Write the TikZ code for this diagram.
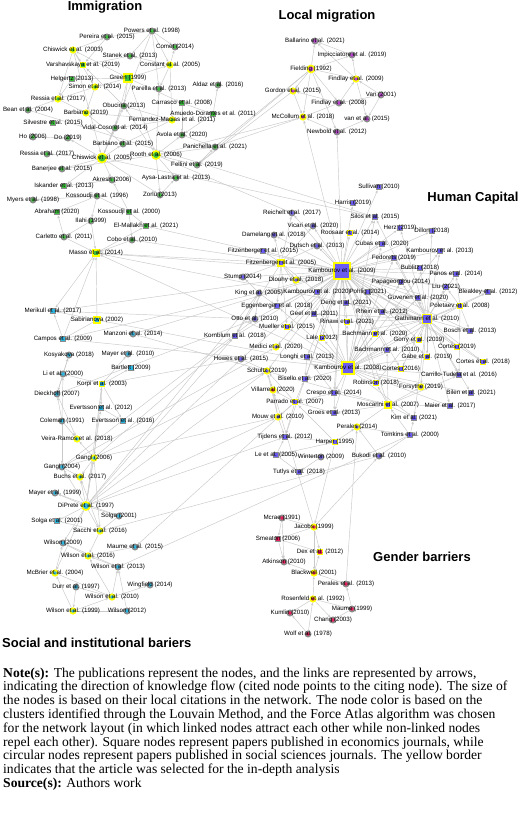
\documentclass[tikz,border=0pt]{standalone}
\usepackage{fontspec}
\setmainfont{Liberation Serif}
\setsansfont{Liberation Sans}
\usetikzlibrary{arrows.meta}
\pgfdeclarelayer{back0}
\pgfdeclarelayer{edges}
\pgfsetlayers{back0,edges,main}
\definecolor{cIM}{HTML}{3CBF3C}
\definecolor{cLM}{HTML}{BF3FD6}
\definecolor{cHC}{HTML}{6B5CF2}
\definecolor{cSB}{HTML}{2DB8E3}
\definecolor{cGB}{HTML}{E6225E}
\definecolor{ring}{HTML}{8C8C8C}
\definecolor{lnkc}{HTML}{C9C9C9}
\definecolor{ylw}{HTML}{FFFF00}
\tikzset{
  mk/.style={inner sep=0pt, line width=1.5pt, draw=ring},
  ci/.style={mk, circle, minimum size=5.4pt},
  sq/.style={mk, rectangle, minimum size=5.2pt},
  sel/.style={draw=ylw, line width=1.7pt},
  sz/.style={minimum size=#1},
  im/.style={fill=cIM}, lm/.style={fill=cLM}, hc/.style={fill=cHC},
  sb/.style={fill=cSB}, gb/.style={fill=cGB},
  lb/.style={font=\sffamily\fontsize{6.2}{7}\selectfont, inner sep=0pt, text=black},
  ttl/.style={font=\sffamily\bfseries\fontsize{13}{15}\selectfont, inner sep=0pt, anchor=base},
  nt/.style={font=\fontsize{13.6}{14}\selectfont, inner sep=0pt, anchor=base west},
  lnk/.style={draw=lnkc, line width=0.45pt, -{Stealth[length=3pt,width=2.4pt]}}
}
\newcommand{\mypp}[5]{\node[#4,label={[lb]center:#5}] (#1) at (#2,#3) {};}
\begin{document}
\begin{tikzpicture}[x=1pt,y=-1pt]
\path[use as bounding box] (0,0) rectangle (520,815);
\begin{pgfonlayer}{back0}
\fill[white] (0,0) rectangle (520,815);
\end{pgfonlayer}
% ---------------- Immigration
\mypp{pow}{152}{31}{ci,im}{Powers et al. (1998)}
\mypp{per}{107}{37}{ci,im}{Pereira et al. (2015)}
\mypp{chi03}{73}{50}{ci,im,sel}{Chiswick et al. (2003)}
\mypp{sta}{130}{56}{ci,im}{Stanek et al. (2013)}
\mypp{com}{175}{47}{ci,im}{Comet (2014)}
\mypp{var}{83}{65}{sq,im,sel}{Varshavskaya et al. (2019)}
\mypp{con}{170}{65}{ci,im,sel}{Constant et al. (2005)}
\mypp{hel}{72}{79}{sq,im}{Helgertz (2013)}
\mypp{gre}{128}{78}{sq,im,sel,sz=7.5pt}{Green (1999)}
\mypp{sim}{95}{87}{ci,im,sel}{Simon et al. (2014)}
\mypp{par}{159}{89}{ci,im}{Parella et al. (2013)}
\mypp{ald}{218}{85}{ci,im}{Aldaz et al. (2016)}
\mypp{res17a}{58}{99}{ci,im,sel}{Ressia et al. (2017)}
\mypp{car}{182}{103}{sq,im}{Carrasco et al. (2008)}
\mypp{obu}{124}{106}{ci,im}{Obucina (2013)}
\mypp{amu}{213}{114}{sq,im}{Amuedo-Dorantes et al. (2011)}
\mypp{bea}{28}{110}{ci,im}{Bean et al. (2004)}
\mypp{bar19}{86}{113}{ci,im,sel}{Barbiano (2019)}
\mypp{fer}{172}{120}{ci,im,sel}{Fernandez-Macias et al. (2011)}
\mypp{sil}{53}{123}{sq,im}{Silvestre et al. (2015)}
\mypp{vid}{115}{128}{ci,im}{Vidal-Coso et al. (2014)}
\mypp{avo}{182}{135}{ci,im}{Avola et al. (2020)}
\mypp{ho}{33}{137}{ci,im}{Ho (2006)}
\mypp{do}{68}{138}{ci,im}{Do (2019)}
\mypp{bar15}{123}{144}{ci,im}{Barbiano et al. (2015)}
\mypp{res17b}{47}{154}{ci,im}{Ressia et al. (2017)}
\mypp{chi05}{102}{158}{ci,im,sel,sz=9pt}{Chiswick et al. (2005)}
\mypp{roo}{156}{155}{ci,im,sel,sz=8pt}{Rooth et al. (2006)}
\mypp{pan}{215}{147}{ci,im}{Panichella et al. (2021)}
\mypp{fel}{197}{165}{ci,im}{Fellini et al. (2019)}
\mypp{ban}{62}{169}{ci,im}{Banerjee et al. (2015)}
\mypp{akr}{112}{180}{ci,im}{Akresh (2006)}
\mypp{ays}{176}{178}{ci,im}{Aysa-Lastra et al. (2013)}
\mypp{isk}{64}{186}{sq,im}{Iskander et al. (2013)}
\mypp{zor}{160}{195}{ci,im}{Zorlu (2013)}
\mypp{mye}{33}{200}{ci,im}{Myers et al. (1998)}
\mypp{kos96}{97}{196}{ci,im}{Kossoudji et al. (1996)}
\mypp{abr}{57}{212}{sq,im}{Abraham (2020)}
\mypp{kos00}{129}{212}{sq,im}{Kossoudji et al. (2000)}
\mypp{ila}{91}{221}{ci,im}{Ilahi (1999)}
\mypp{elm}{146}{226}{sq,im}{El-Mallakh et al. (2021)}
\mypp{carl}{64}{237}{ci,im}{Carletto et al. (2011)}
\mypp{cob}{132}{240}{ci,im}{Cobo et al. (2010)}
\mypp{mas}{96}{253}{sq,im,sel,sz=6.5pt}{Masso et al. (2014)}
% ---------------- Local migration
\mypp{bal}{315}{41}{ci,lm}{Ballarino et al. (2021)}
\mypp{imp}{352}{55}{ci,lm}{Impicciatore et al. (2019)}
\mypp{fie}{311}{69}{ci,lm,sel,sz=7pt}{Fielding (1992)}
\mypp{fin09}{356}{79}{ci,lm,sel}{Findlay et al. (2009)}
\mypp{van01}{381}{95}{ci,lm}{Van (2001)}
\mypp{gor}{293}{91}{ci,lm,sel}{Gordon et al. (2015)}
\mypp{fin08}{339}{103}{ci,lm}{Findlay et al. (2008)}
\mypp{mcc}{303}{117}{ci,lm,sel}{McCollum et al. (2018)}
\mypp{vanet}{367}{119}{ci,lm}{van et al. (2015)}
\mypp{new}{337}{132}{ci,lm}{Newbold et al. (2012)}
% ---------------- Social and institutional
\mypp{mer}{53}{311}{sq,sb}{Merikull et al. (2017)}
\mypp{sab}{97}{320}{sq,sb,sel,sz=6.5pt}{Sabirianova (2002)}
\mypp{cam}{63}{339}{sq,sb}{Campos et al. (2009)}
\mypp{man}{133}{334}{ci,sb}{Manzoni et al. (2014)}
\mypp{kosy}{69}{355}{ci,sb}{Kosyakova (2018)}
\mypp{may10}{128}{354}{ci,sb}{Mayer et al. (2010)}
\mypp{bart}{131}{368}{sq,sb}{Bartlett (2009)}
\mypp{li}{63}{374}{ci,sb}{Li et al. (2000)}
\mypp{kor}{102}{384}{sq,sb,sel}{Korpi et al. (2003)}
\mypp{die}{57}{394}{ci,sb}{Dieckhoff (2007)}
\mypp{eve12}{101}{408}{sq,sb}{Evertsson et al. (2012)}
\mypp{col}{62}{421}{ci,sb}{Coleman (1991)}
\mypp{eve16}{123}{421}{sq,sb}{Evertsson et al. (2016)}
\mypp{vei}{77}{439}{ci,sb,sel}{Veira-Ramos et al. (2018)}
\mypp{gan06}{94}{458}{ci,sb,sel}{Gangl (2006)}
\mypp{gan04}{62}{467}{ci,sb}{Gangl (2004)}
\mypp{buc}{80}{477}{ci,sb,sel}{Buchs et al. (2017)}
\mypp{may99}{55}{493}{ci,sb}{Mayer et al. (1999)}
\mypp{dip}{86}{506}{ci,sb,sel,sz=8pt}{DiPrete et al. (1997)}
\mypp{sol}{119}{516}{ci,sb}{Solga (2001)}
\mypp{sole}{57}{521}{sq,sb}{Solga et al. (2001)}
\mypp{sac}{100}{531}{ci,sb,sel}{Sacchi et al. (2016)}
\mypp{wil09}{63}{543}{ci,sb}{Wilson (2009)}
\mypp{mau15}{135}{547}{ci,sb}{Maume et al. (2015)}
\mypp{wil16}{88}{556}{ci,sb,sel}{Wilson et al. (2016)}
\mypp{wil13}{118}{567}{ci,sb}{Wilson et al. (2013)}
\mypp{mcb}{55}{573}{ci,sb,sel}{McBrier et al. (2004)}
\mypp{dur}{76}{587}{ci,sb}{Durr et al. (1997)}
\mypp{win}{150}{585}{ci,sb}{Wingfield (2014)}
\mypp{wil10}{112}{597}{ci,sb,sel}{Wilson et al. (2010)}
\mypp{wil99}{73}{611}{ci,sb,sel}{Wilson et al. (1999)}
\mypp{wil12}{127}{611}{ci,sb}{Wilson (2012)}
% ---------------- Human capital
\mypp{har}{353}{203}{sq,hc}{Harris (2019)}
\mypp{rei}{292}{213}{ci,hc}{Reichelt et al. (2017)}
\mypp{vic}{313}{226}{ci,hc}{Vicari et al. (2020)}
\mypp{roo14}{350}{233}{sq,hc,sel}{Roosaar et al. (2014)}
\mypp{dam}{274}{235}{ci,hc}{Damelang et al. (2018)}
\mypp{dut}{317}{246}{ci,hc}{Dutsch et al. (2013)}
\mypp{fit15}{263}{251}{sq,hc}{Fitzenberger et al. (2015)}
\mypp{fit05}{281}{263}{sq,hc,sel,sz=6pt}{Fitzenberger et al. (2005)}
\mypp{kam09}{342}{271}{sq,hc,sel,sz=16pt}{Kambourov et al. (2009)}
\mypp{stu}{243}{277}{ci,hc}{Stump (2014)}
\mypp{dlo}{296}{280}{ci,hc,sel}{Dlouhy et al. (2018)}
\mypp{kin}{259}{293}{ci,hc}{King et al. (2005)}
\mypp{kam20}{317}{292}{sq,hc}{Kambourov et al. (2020)}
\mypp{egg}{277}{306}{sq,hc}{Eggenberger et al. (2018)}
\mypp{den}{346}{303}{sq,hc}{Deng et al. (2021)}
\mypp{oto}{255}{319}{ci,hc}{Otto et al. (2010)}
\mypp{gee}{314}{314}{sq,hc}{Geel et al. (2011)}
\mypp{mue}{287}{327}{sq,hc,sel}{Mueller et al. (2015)}
\mypp{rin}{347}{322}{sq,hc,sel}{Rinawi et al. (2021)}
\mypp{kor18}{235}{336}{sq,hc}{Kornblum et al. (2018)}
\mypp{lal}{322}{338}{sq,hc,sel}{Lale (2012)}
\mypp{bac20}{375}{334}{sq,hc,sel}{Bachmann et al. (2020)}
\mypp{med}{276}{347}{ci,hc,sel}{Medici et al. (2020)}
\mypp{how}{241}{359}{ci,hc}{Howes et al. (2015)}
\mypp{lon}{307}{357}{sq,hc}{Longhi et al. (2013)}
\mypp{kam08}{348}{368}{sq,hc,sel,sz=11.5pt}{Kambourov et al. (2008)}
\mypp{sul}{379}{187}{sq,hc}{Sullivan (2010)}
\mypp{sil}{375}{217}{sq,hc}{Silos et al. (2015)}
\mypp{her}{400}{228}{sq,hc}{Herz (2019)}
\mypp{dil}{432}{231}{sq,hc}{Dillon (2018)}
\mypp{cub}{382}{244}{sq,hc}{Cubas et al. (2020)}
\mypp{kam13}{440}{251}{sq,hc}{Kambourov et al. (2013)}
\mypp{fed}{394}{258}{sq,hc}{Fedorets (2019)}
\mypp{bub}{420}{268}{sq,hc}{Bublitz (2018)}
\mypp{pano}{456}{274}{sq,hc}{Panos et al. (2014)}
\mypp{pap}{401}{282}{sq,hc}{Papageorgiou (2014)}
\mypp{liu}{446}{287}{sq,hc}{Liu (2021)}
\mypp{poh}{368}{292}{sq,hc}{Pohlig (2021)}
\mypp{ble}{488}{292}{sq,hc}{Bleakley et al. (2012)}
\mypp{guv}{418}{298}{sq,hc}{Guvenen et al. (2020)}
\mypp{pol}{460}{306}{sq,hc,sel}{Poletaev et al. (2008)}
\mypp{rhe}{382}{312}{sq,hc}{Rhein et al. (2012)}
\mypp{gat}{427}{319}{sq,hc,sel,sz=9pt}{Gathmann et al. (2010)}
\mypp{bos}{470}{331}{sq,hc}{Bosch et al. (2013)}
\mypp{gor19}{419}{340}{sq,hc,sel}{Gorry et al. (2019)}
\mypp{cor19}{457}{347}{sq,hc,sel}{Cortes (2019)}
\mypp{bac10}{387}{350}{sq,hc}{Bachmann et al. (2010)}
\mypp{gab}{427}{357}{sq,hc,sel}{Gabe et al. (2019)}
\mypp{cor18}{483}{362}{sq,hc,sel}{Cortes et al. (2018)}
\mypp{cor16}{401}{369}{sq,hc,sel}{Cortes (2016)}
\mypp{cat}{459}{375}{sq,hc}{Carrillo-Tudela et al. (2016)}
\mypp{rob}{376}{383}{sq,hc,sel}{Robinson (2018)}
\mypp{for}{421}{387}{ci,hc,sel}{Forsythe (2019)}
\mypp{bil}{471}{393}{sq,hc}{Bilen et al. (2021)}
\mypp{mos}{388}{405}{sq,hc,sel,sz=6.5pt}{Moscarini et al. (2007)}
\mypp{mai}{450}{406}{sq,hc}{Maier et al. (2017)}
\mypp{kim}{414}{418}{sq,hc}{Kim et al. (2021)}
\mypp{per14}{357}{427}{ci,hc,sel}{Perales (2014)}
\mypp{tom}{410}{435}{sq,hc}{Tomkins et al. (2000)}
\mypp{buk}{379}{456}{ci,hc}{Bukodi et al. (2010)}
\mypp{harp}{335}{442}{sq,hc,sel}{Harper (1995)}
\mypp{gro}{334}{413}{sq,hc}{Groes et al. (2013)}
\mypp{cre}{334}{393}{sq,hc}{Crespo et al. (2014)}
\mypp{sch}{267}{371}{ci,hc,sel}{Schultz (2019)}
\mypp{bis}{305}{379}{sq,hc}{Bisello et al. (2020)}
\mypp{vil}{273}{390}{ci,gb,sel}{Villarreal (2020)}
\mypp{prr}{295}{402}{sq,hc,sel}{Parrado et al. (2007)}
\mypp{mou}{278}{417}{ci,hc,sel}{Mouw et al. (2010)}
\mypp{tij}{285}{437}{sq,hc}{Tijdens et al. (2012)}
\mypp{le}{276}{455}{sq,hc}{Le et al. (2005)}
\mypp{wint}{321}{457}{ci,hc}{Winterton (2009)}
\mypp{tut}{299}{472}{sq,hc}{Tutlys et al. (2018)}
% ---------------- Gender barriers
\mypp{mcr}{282}{518}{ci,gb}{Mcrae (1991)}
\mypp{jac}{314}{527}{ci,gb,sel}{Jacobs (1999)}
\mypp{sme}{278}{539}{sq,gb}{Smeaton (2006)}
\mypp{dex}{320}{552}{sq,gb,sel}{Dex et al. (2012)}
\mypp{atk}{284}{562}{ci,gb}{Atkinson (2010)}
\mypp{bla}{314}{573}{ci,gb,sel}{Blackwell (2001)}
\mypp{perl}{346}{584}{ci,gb}{Perales et al. (2013)}
\mypp{ros}{313}{599}{ci,gb,sel}{Rosenfeld et al. (1992)}
\mypp{mau99}{352}{609}{ci,gb}{Maume (1999)}
\mypp{kum}{290}{613}{ci,gb}{Kumlin (2010)}
\mypp{cha}{333}{620}{ci,gb}{Chang (2003)}
\mypp{wol}{308}{634}{ci,gb}{Wolf et al. (1978)}
% ---------------- connectors
\begin{pgfonlayer}{edges}
\foreach \a/\b in {pow/per,pow/sta,pow/con,pow/com,pow/par,chi03/var,chi03/sim,chi03/chi05,chi03/res17a,chi03/per,
 con/sta,con/com,con/par,con/fer,gre/con,gre/obu,gre/sim,gre/vid,gre/car,gre/chi03,gre/hel,hel/res17a,sim/res17a,
 sim/bar19,res17a/bar19,bar15/bar19,fer/bar19,fer/vid,fer/bar15,fer/obu,car/amu,amu/ald,car/avo,amu/avo,bea/sil,
 bea/res17a,chi05/sil,chi05/vid,chi05/bar15,chi05/res17b,chi05/ban,chi05/do,ho/do,chi05/obu,chi05/isk,chi05/zor,
 chi05/akr,roo/ban,roo/avo,roo/fel,roo/pan,roo/obu,roo/zor,roo/ays,roo/par,fel/pan,avo/pan,akr/isk,kos00/akr,
 kos96/kos00,kos96/ila,kos96/mye,kos96/abr,ila/carl,ila/mas,carl/abr,carl/mas,cob/mas,kos00/elm,kos00/cob,mas/elm,
 zor/ays,sta/var,per/var,obu/var,pow/chi05,gre/roo}
  \draw[lnk] (\a) -- (\b);
\foreach \a/\b in {fie/fel,fie/pan,gor/fel,roo/mcc,mcc/pan,kam09/mas,fit05/mas,kam09/elm,kam09/cob,gat/mas,kam08/mas,
 sab/mas,cam/mas,mas/mer,roo/rei,kam09/mcc,kam09/new,
 fie/bal,fie/imp,fie/fin09,fie/gor,fie/fin08,fie/mcc,fie/new,van01/fin09,van01/fin08,van01/vanet,fin08/fin09,
 fin09/imp,fin09/bal,gor/mcc,fin08/mcc,new/vanet,new/mcc,fin09/vanet,fin08/gor,imp/bal}
  \draw[lnk] (\a) -- (\b);
\foreach \a/\b in {sab/mer,sab/cam,cam/mer,li/kosy,die/kosy,kor/may10,kor/bart,kor/eve12,kor/eve16,eve12/eve16,
 li/die,col/die,col/vei,die/vei,gan06/vei,gan04/gan06,gan04/buc,gan06/buc,col/gan04,dip/may99,dip/gan04,dip/gan06,
 dip/buc,dip/sol,dip/sole,dip/sac,gan06/sac,sac/buc,sol/sac,sole/sac,may99/sol,dip/kor,dip/eve12,mos/man,kam09/man,
 wil99/wil10,wil99/wil12,dur/wil99,dur/wil10,wil10/wil16,wil10/wil13,wil09/wil16,mcb/wil09,mcb/wil10,wil99/mcb,
 wil13/wil16,mau15/wil16,wil10/win,wil12/wil13,wil09/wil13,dip/wil09,dip/mcb,sac/wil16,kor/gan06,li/kor,col/li,
 dip/mou,dip/kin,dip/kor18,gan06/kor18,gan06/sch,dip/how,gan04/oto,kam08/cam,kam09/mer,dip/tij,tom/wil13,kin/cam,
 oto/mer,die/oto,gan06/mou,dip/sch,buk/sac,gan04/med,sab/kam08,kor/how,prr/mau15}
  \draw[lnk] (\a) -- (\b);
\foreach \b in {fit15,dlo,kam20,egg,den,gee,mue,rin,lal,bac20,kam13,fed,bub,pap,poh,guv,rhe,cub,sil,her,roo14,dut,
 vic,stu,oto,kor18,lon,bis,cre,gro,gat,sul,har,dil,pano,liu,ble,bos,gor19,cor19,cor16,gab,cor18,rob,bac10,tij,rei,
 dam,med,how,sch}
  \draw[lnk] (kam09) -- (\b);
\foreach \b in {gat,bac10,cor16,rob,gro,cre,lal,rhe,gab,gor19,cat,for,bil,kim,mai,lon,bis,gee,egg,mue,rin,bac20,
 kam20,guv,poh,pap,sil,cub,kam13,fed}
  \draw[lnk] (kam08) -- (\b);
\foreach \b in {kam13,guv,bos,gor19,cor19,gab,cor18,cat,rob,bil,mai,liu,pano,ble,bub,pap,poh,rhe,bac20,rin,cor16,
 kim,for,lal,gee,den,fed,her,dil,sil}
  \draw[lnk] (gat) -- (\b);
\foreach \a/\b in {kin/kam09,pol/kam09,mos/kam09,fit05/kam09,kam08/kam09,pol/kam08,pol/gat,
 mos/rob,mos/for,mos/kim,mos/cat,mos/bac10,mos/gro,mos/cre,mos/per14,mos/mai,tom/mos,
 pol/cat,pol/bos,pol/liu,pol/ble,pol/pano,
 fit05/fit15,fit05/dlo,fit05/egg,fit05/dut,fit05/dam,fit05/rei,fit05/vic,fit05/stu,fit05/mue,fit05/gee,fit05/kor18,fit05/kam20,
 kin/kam20,kin/oto,kin/egg,kin/stu,kin/kor18,
 prr/mou,prr/sch,prr/vil,prr/tij,prr/cre,prr/gro,prr/bis,harp/prr,harp/tij,harp/jac,harp/le,harp/per14,
 le/wint,le/tut,wint/tut,le/tij,mou/sch,mou/vil,mou/tij,sch/vil,how/sch,lon/bis,lon/cre,
 tom/per14,tom/buk,tom/kim,buk/per14,perl/per14,mcr/jac,jac/buk,jac/vil,
 jac/dex,jac/bla,sme/atk,bla/dex,bla/perl,ros/bla,ros/kum,wol/ros,wol/kum,ros/cha,mau99/cha,mau99/perl,
 mcr/sme,mcr/atk,sme/dex,jac/sme,ros/mau99,bla/atk}
  \draw[lnk] (\a) -- (\b);
\end{pgfonlayer}
% ---------------- titles
\node[ttl] (tIM) at (105,10.5) {Immigration};
\node[ttl] (tLM) at (327,19.5) {Local migration};
\node[ttl] (tHC) at (473,201.5) {Human Capital};
\node[ttl] (tGB) at (422,561) {Gender barriers};
\node[ttl,anchor=base west] (tSB) at (2,647.5) {Social and institutional bariers};
% ---------------- note
\node[nt] (n1) at (3,677) {\textbf{Note(s):} The publications represent the nodes, and the links are represented by arrows,};
\node[nt] (n2) at (3,690.8) {indicating the direction of knowledge flow (cited node points to the citing node). The size of};
\node[nt] (n3) at (3,704.6) {the nodes is based on their local citations in the network. The node color is based on the};
\node[nt] (n4) at (3,718.4) {clusters identified through the Louvain Method, and the Force Atlas algorithm was chosen};
\node[nt] (n5) at (3,732.2) {for the network layout (in which linked nodes attract each other while non-linked nodes};
\node[nt] (n6) at (3,746) {repel each other). Square nodes represent papers published in economics journals, while};
\node[nt] (n7) at (3,759.8) {circular nodes represent papers published in social sciences journals. The yellow border};
\node[nt] (n8) at (3,773.6) {indicates that the article was selected for the in-depth analysis};
\node[nt] (n9) at (3,787.4) {\textbf{Source(s):} Authors work};
\end{tikzpicture}
\end{document}
